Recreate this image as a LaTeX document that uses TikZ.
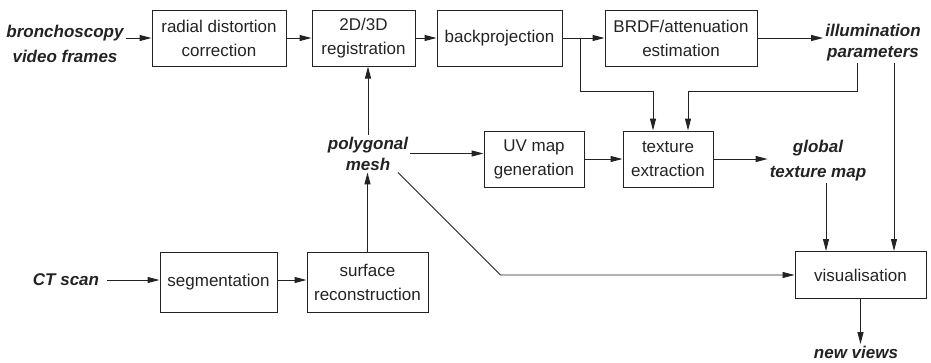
\documentclass[tikz,border=0pt]{standalone}
\usepackage{fontspec}
\setmainfont{Liberation Sans}
\usetikzlibrary{calc, arrows.meta}
\definecolor{PipeInk}{RGB}{35, 35, 35}

\tikzset{
  stage/.style={draw=PipeInk, line width=1pt, text=PipeInk, align=center, inner sep=0pt,
    font=\fontsize{17}{24}\selectfont},
  datum/.style={text=PipeInk, align=center, inner sep=2pt,
    font=\fontsize{17}{25}\selectfont\bfseries\itshape},
  flow/.style={-{Triangle[length=12pt, width=6pt]}, draw=PipeInk, line width=1pt},
}

\begin{document}
\begin{tikzpicture}[x=1pt, y=-1pt]
    \useasboundingbox (0,0) rectangle (931,362);
    % video branch
    \node[datum] (bronch) at (65,44) {bronchoscopy\\video frames};
    \node[stage, minimum width=134pt, minimum height=56pt] (radial) at (219,38) {radial distortion\\correction};
    \node[stage, minimum width=103pt, minimum height=56pt] (reg) at (363.5,38) {2D/3D\\registration};
    \node[stage, minimum width=125pt, minimum height=56pt] (back) at (499.5,38) {backprojection};
    \node[stage, minimum width=152pt, minimum height=56pt] (brdf) at (681,38) {BRDF/attenuation\\estimation};
    \node[datum] (illum) at (873,42.5) {illumination\\[-4pt]parameters};
    % mesh and texture
    \node[datum] (mesh) at (368,153.5) {polygonal\\[-4pt]mesh};
    \node[stage, minimum width=100pt, minimum height=56pt] (uv) at (534,159) {UV map\\generation};
    \node[stage, minimum width=90pt, minimum height=56pt] (tex) at (668,159) {texture\\extraction};
    \node[datum] (glob) at (818,160.5) {global\\texture map};
    % CT branch
    \node[datum] (ct) at (66,280) {CT scan};
    \node[stage, minimum width=117pt, minimum height=60pt] (seg) at (218.5,282) {segmentation};
    \node[stage, minimum width=121pt, minimum height=60pt] (surf) at (367.5,282) {surface\\reconstruction};
    \node[stage, minimum width=131pt, minimum height=47pt] (vis) at (860.5,275) {visualisation};
    \node[datum] (views) at (856,352.5) {new views};

    \draw[flow] (bronch.east |- radial.west) -- (radial.west);
    \draw[flow] (radial) -- (reg);
    \draw[flow] (reg) -- (back);
    \draw[flow] (back) -- (brdf);
    \draw[flow] (brdf.east) -- (illum.west |- brdf.east);
    \coordinate (split) at ($(back.east)!0.42!(brdf.west)$);
    \draw[flow] (split) |- ([xshift=-15pt, yshift=39pt]tex.north) -- ([xshift=-15pt]tex.north);
    \draw[flow] ([xshift=-16pt]illum.south) |- ([xshift=20pt, yshift=39pt]tex.north) -- ([xshift=20pt]tex.north);
    \draw[flow] ([xshift=21pt]illum.south) -- ([xshift=21pt]illum.south |- vis.north);

    \draw[flow] ([xshift=6pt]ct.east) -- (seg.west |- ct.east);
    \draw[flow] (seg.east |- ct.east) -- (surf.west |- ct.east);
    \draw[flow] (surf.north) -- (surf.north |- mesh.south);
    \draw[flow] (mesh.north) -- (mesh.north |- reg.south);
    \draw[flow] (mesh.east) -- (uv.west |- mesh.east);
    \draw[flow] (uv) -- (tex);
    \draw[flow] (tex.east) -- (glob.west |- tex.east);
    \draw[flow] ([xshift=8pt]glob.south) -- ([xshift=8pt]glob.south |- vis.north);
    % 45 degree drop from the mesh, then straight into the viewer
    \draw[flow, line width=0.8pt] let \p1=([xshift=30pt]mesh.south), \p2=(vis.west) in
        (\p1) -- (\x1+\y1-\y2, \y2) -- (vis.west);
    \draw[flow] (vis.south) -- (vis.south |- views.north);
\end{tikzpicture}
\end{document}
